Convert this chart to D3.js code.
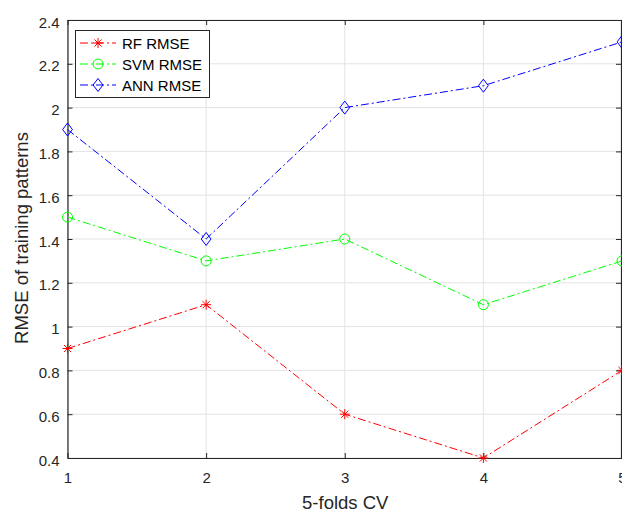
<!DOCTYPE html>
<html>
<head>
<meta charset="utf-8">
<script src="https://cdn.jsdelivr.net/npm/d3@7"></script>
<style>
  body { margin: 0; background: #fff; }
  text { font-family: "Liberation Sans", Arial, sans-serif; }
</style>
</head>
<body>
<div id="chart"></div>
<script>
var folds = [1, 2, 3, 4, 5];
var rfRmse = [0.9, 1.1, 0.6, 0.4, 0.8];
var svmRmse = [1.5, 1.3, 1.4, 1.1, 1.3];
var annRmse = [1.9, 1.4, 2.0, 2.1, 2.3];
var yTicks = [0.4, 0.6, 0.8, 1, 1.2, 1.4, 1.6, 1.8, 2, 2.2, 2.4];
var seriesNames = ["RF RMSE", "SVM RMSE", "ANN RMSE"];

var w = 622, h = 513;
var pLeft = 67.5, pRight = 622, pTop = 20, pBottom = 458;

var svg = d3.select("#chart").append("svg")
    .attr("width", w).attr("height", h);

var x = d3.scaleLinear().domain([1, 5]).range([pLeft, pRight]);
var y = d3.scaleLinear().domain([0.4, 2.4]).range([pBottom, pTop]);

// grid
svg.append("g").selectAll("line")
    .data(folds).enter().append("line")
    .attr("x1", d => x(d)).attr("x2", d => x(d))
    .attr("y1", pTop).attr("y2", pBottom)
    .attr("stroke", "#e3e3e3").attr("stroke-width", 1);
svg.append("g").selectAll("line")
    .data(yTicks).enter().append("line")
    .attr("y1", d => y(d)).attr("y2", d => y(d))
    .attr("x1", pLeft).attr("x2", pRight)
    .attr("stroke", "#e3e3e3").attr("stroke-width", 1);

// axes (ticks inward)
var axisColor = "#262626";
var gx = svg.append("g").attr("transform", "translate(0," + pBottom + ")")
    .call(d3.axisBottom(x).tickValues(folds).tickFormat(d3.format("d")).tickSizeInner(-5).tickSizeOuter(0).tickPadding(14));
var gxTop = svg.append("g").attr("transform", "translate(0," + pTop + ")")
    .call(d3.axisTop(x).tickValues(folds).tickFormat("").tickSizeInner(-5).tickSizeOuter(0));
var gy = svg.append("g").attr("transform", "translate(" + pLeft + ",0)")
    .call(d3.axisLeft(y).tickValues(yTicks).tickFormat(d3.format("~g")).tickSizeInner(-5).tickSizeOuter(0).tickPadding(8));
var gyRight = svg.append("g").attr("transform", "translate(" + (pRight - 1) + ",0)")
    .call(d3.axisRight(y).tickValues(yTicks).tickFormat("").tickSizeInner(-5).tickSizeOuter(0));

[gx, gxTop, gy, gyRight].forEach(function(g) {
    g.selectAll("path").attr("stroke", axisColor).attr("stroke-width", 1.2);
    g.selectAll("line").attr("stroke", axisColor);
    g.selectAll("text").attr("fill", axisColor).attr("font-size", "15px")
        .attr("font-family", "'Liberation Sans', Arial, sans-serif");
});
gy.selectAll("text").attr("dy", "0.47em");

// labels
svg.append("text")
    .attr("x", (pLeft + pRight) / 2 + 0.5).attr("y", 509)
    .attr("text-anchor", "middle").attr("font-size", "18.5px").attr("fill", axisColor)
    .text("5-folds CV");
svg.append("text")
    .attr("transform", "translate(28,238) rotate(-90)")
    .attr("text-anchor", "middle").attr("font-size", "18.5px").attr("fill", axisColor)
    .text("RMSE of training patterns");

var series = [
    {name: seriesNames[0], values: rfRmse, color: "#ff0000", marker: "star"},
    {name: seriesNames[1], values: svmRmse, color: "#00ff00", marker: "circle"},
    {name: seriesNames[2], values: annRmse, color: "#0000ff", marker: "diamond"}
];

var line = d3.line().x((d, i) => x(folds[i])).y(d => y(d));

function drawMarker(g, type, cx, cy, color) {
    if (type == "star") {
        var r = 5;
        [0, 45, 90, 135].forEach(function(a) {
            var rad = a * Math.PI / 180;
            g.append("line")
                .attr("x1", cx - r * Math.cos(rad)).attr("y1", cy - r * Math.sin(rad))
                .attr("x2", cx + r * Math.cos(rad)).attr("y2", cy + r * Math.sin(rad))
                .attr("stroke", color).attr("stroke-width", 1);
        });
    } else if (type == "circle") {
        g.append("circle").attr("cx", cx).attr("cy", cy).attr("r", 5)
            .attr("fill", "none").attr("stroke", color).attr("stroke-width", 1);
    } else {
        var r2 = 6.5;
        g.append("path")
            .attr("d", "M" + cx + "," + (cy - r2) + "L" + (cx + r2 * 0.75) + "," + cy +
                "L" + cx + "," + (cy + r2) + "L" + (cx - r2 * 0.75) + "," + cy + "Z")
            .attr("fill", "none").attr("stroke", color).attr("stroke-width", 1);
    }
}

series.forEach(function(s) {
    var g = svg.append("g");
    g.append("path").datum(s.values)
        .attr("d", line)
        .attr("fill", "none").attr("stroke", s.color).attr("stroke-width", 1)
        .attr("stroke-dasharray", "8,3,2,3");
    s.values.forEach(function(v, i) {
        drawMarker(g, s.marker, x(folds[i]), y(v), s.color);
    });
});

// legend
var lg = svg.append("g");
lg.append("rect").attr("x", 75.5).attr("y", 30.5).attr("width", 134).attr("height", 67)
    .attr("fill", "#fff").attr("stroke", axisColor).attr("stroke-width", 1);
series.forEach(function(s, i) {
    var ly = 43 + i * 21;
    lg.append("line").attr("x1", 80).attr("x2", 116).attr("y1", ly).attr("y2", ly)
        .attr("stroke", s.color).attr("stroke-dasharray", "8,3,2,3");
    drawMarker(lg, s.marker, 98, ly, s.color);
    lg.append("text").attr("x", 122).attr("y", ly + 5.5)
        .attr("font-size", "15px").attr("fill", "#000").text(s.name);
});
</script>
</body>
</html>
